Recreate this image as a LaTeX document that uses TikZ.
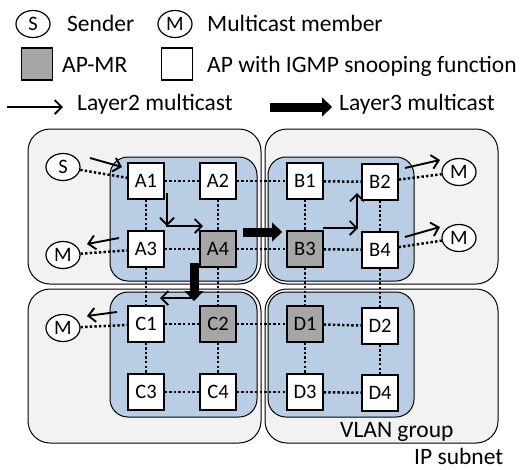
\documentclass[tikz,border=0pt]{standalone}
\usepackage{fontspec}
\setmainfont{Carlito}
\usetikzlibrary{arrows.meta,shapes.geometric}
\definecolor{subnetgray}{RGB}{242,242,242}
\definecolor{vlanblue}{RGB}{185,205,228}
\definecolor{apgray}{RGB}{166,166,166}
\tikzset{
  ap/.style={draw, line width=1.3pt, minimum width=36pt, minimum height=36pt, inner sep=0pt, fill=white, font=\fontsize{20.5}{20.5}\selectfont},
  apmr/.style={ap, fill=apgray},
  host/.style={ellipse, draw, line width=1.2pt, minimum width=34pt, minimum height=27pt, inner sep=0pt, fill=white, font=\fontsize{20.5}{20.5}\selectfont},
  legsq/.style={draw, line width=1.2pt, minimum width=31pt, minimum height=32pt, inner sep=0pt},
  lbl/.style={anchor=base west, inner sep=0pt, font=\fontsize{23.5}{23.5}\selectfont},
  subnet/.style={draw, line width=1pt, fill=subnetgray, rounded corners=22pt},
  vlan/.style={draw, line width=1pt, fill=vlanblue, rounded corners=18pt},
  link/.style={line width=2.5pt, dash pattern=on 2.4pt off 2.2pt},
  ltwo/.style={line width=1.9pt, -{Straight Barb[length=7pt,width=14pt,line width=1.9pt]}},
  lthree/.style={line width=9pt, -{Triangle[length=10pt,width=19pt,line width=0.1pt]}}
}
\begin{document}
\begin{tikzpicture}[x=1pt,y=-1pt]
\useasboundingbox (0,0) rectangle (525,469);
% legend
\node[host] (LS) at (33,24) {S};
\node[lbl] (tS) at (67,31) {Sender};
\node[host] (LM) at (175,24) {M};
\node[lbl] (tM) at (207,31) {Multicast member};
\node[legsq, fill=apgray] (LG) at (37,64) {};
\node[lbl] (tG) at (62,72) {AP-MR};
\node[legsq, fill=white] (LW) at (177,64) {};
\node[lbl] (tW) at (207,72) {AP with IGMP snooping function};
\coordinate (l2a) at (7,107);
\coordinate (l2b) at (63,107);
\draw[ltwo] (l2a) -- (l2b);
\node[lbl] (t2) at (77,110) {Layer2 multicast};
\coordinate (l3a) at (270,107);
\coordinate (l3b) at (332,107);
\draw[lthree] (l3a) -- (l3b);
\node[lbl] (t3) at (339,110) {Layer3 multicast};
% subnets
\draw[subnet] (28,129) rectangle (261,284);
\draw[subnet] (265,129) rectangle (498,284);
\draw[subnet] (28,289) rectangle (261,443);
\draw[subnet] (265,289) rectangle (498,443);
% vlans
\draw[vlan] (110,157) rectangle (257,281);
\draw[vlan] (268,157) rectangle (414,281);
\draw[vlan] (110,292) rectangle (257,417);
\draw[vlan] (268,292) rectangle (414,417);
\node[lbl] (tV) at (340,437) {VLAN group};
\node[lbl] (tI) at (414,464) {IP subnet};
% APs
\node[ap] (A1) at (146,181) {A1};
\node[ap] (A2) at (218,181) {A2};
\node[ap] (B1) at (305,181) {B1};
\node[ap] (B2) at (380,182) {B2};
\node[ap] (A3) at (146,249) {A3};
\node[apmr] (A4) at (218,249) {A4};
\node[apmr] (B3) at (305,249) {B3};
\node[ap] (B4) at (380,250) {B4};
\node[ap] (C1) at (146,324) {C1};
\node[apmr] (C2) at (218,324) {C2};
\node[apmr] (D1) at (305,324) {D1};
\node[ap] (D2) at (380,326) {D2};
\node[ap] (C3) at (146,392) {C3};
\node[ap] (C4) at (218,392) {C4};
\node[ap] (D3) at (305,392) {D3};
\node[ap] (D4) at (380,393) {D4};
% hosts
\node[host] (S) at (63,167) {S};
\node[host] (M1) at (63,255) {M};
\node[host] (M2) at (63,328) {M};
\node[host] (M3) at (459,172) {M};
\node[host] (M4) at (459,238) {M};
% links
\foreach \a/\b in {A1/A2,A2/B1,B1/B2,A3/A4,A4/B3,B3/B4,C1/C2,C2/D1,D1/D2,C3/C4,C4/D3,D3/D4,
  A1/A3,A3/C1,C1/C3,A2/A4,A4/C2,C2/C4,B1/B3,B3/D1,D1/D3,B2/B4,B4/D2,D2/D4,
  S/A1,M1/A3,M2/C1,B2/M3,B4/M4}
  \draw[link] (\a) -- (\b);
% layer2 arrows
\draw[ltwo] (90,158) -- (122,167);
\draw[ltwo] (119,238) -- (87,244);
\draw[ltwo] (167,193) -- (167,226);
\draw[ltwo] (166,226) -- (203,226);
\draw[ltwo] (194,298) -- (160,298);
\draw[ltwo] (117,312) -- (87,316);
\draw[ltwo] (323,228) -- (358,228);
\draw[ltwo] (357,229) -- (357,193);
\draw[ltwo] (405,168) -- (440,160);
\draw[ltwo] (405,237) -- (440,227);
% layer3 arrows
\draw[lthree] (243,232) -- (282,232);
\draw[lthree] (194,263) -- (194,301);
\end{tikzpicture}
\end{document}
